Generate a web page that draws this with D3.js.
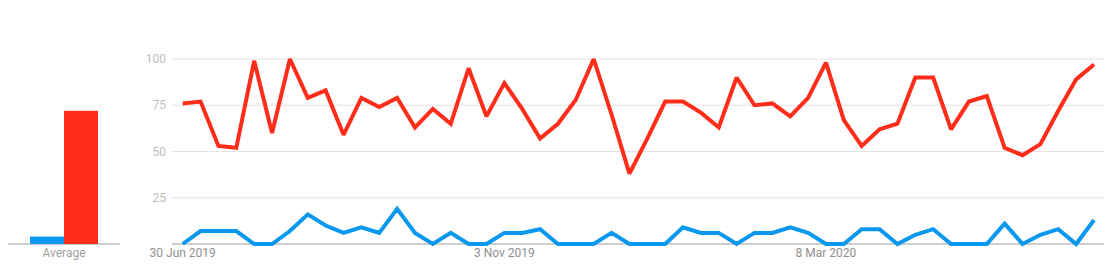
<!DOCTYPE html>
<html>
<head>
<meta charset="utf-8">
<script src="https://cdn.jsdelivr.net/npm/d3@7"></script>
<style>
  body { margin: 0; background: #fff; }
  svg { display: block; font-family: Roboto, "Noto Sans", sans-serif; }
</style>
</head>
<body>
<div id="chart"></div>
<script>
// weekly points, 30 Jun 2019 .. 21 Jun 2020
var startDate = "2019-06-30";
var redValues = [76, 77, 53, 52, 99, 60, 100, 79, 83, 59, 79, 74, 79, 63, 73, 65,
  95, 69, 87, 73, 57, 65, 78, 100, 70, 38, 57, 77, 77, 71, 63, 90, 75,
  76, 69, 79, 98, 67, 53, 62, 65, 90, 90, 62, 77, 80, 52, 48, 54, 72, 89, 97];
var blueValues = [0, 7, 7, 7, 0, 0, 7, 16, 10, 6, 9, 6, 19, 6, 0, 6,
  0, 0, 6, 6, 8, 0, 0, 0, 6, 0, 0, 0, 9, 6, 6, 0, 6,
  6, 9, 6, 0, 0, 8, 8, 0, 5, 8, 0, 0, 0, 11, 0, 5, 8, 0, 13];
var averages = [4, 72];
var seriesColors = ["#0a98ef", "#ff2d1a"];
var yTicks = [25, 50, 75, 100];
var xTickLabels = ["30 Jun 2019", "3 Nov 2019", "8 Mar 2020"];
var xTickDates = ["2019-06-30", "2019-11-03", "2020-03-08"];

var width = 1117, height = 273;
var svg = d3.select("#chart").append("svg").attr("width", width).attr("height", height);

var parse = d3.utcParse("%Y-%m-%d");
var dates = redValues.map(function (d, i) { return d3.utcWeek.offset(parse(startDate), i); });

var y = d3.scaleLinear().domain([0, 100]).range([244, 59]);

// average bars
var xa = d3.scaleBand().domain([0, 1]).range([30, 98]).padding(0);
svg.append("line").attr("x1", 8).attr("x2", 120).attr("y1", y(0)).attr("y2", y(0))
  .attr("stroke", "#9e9e9e").attr("stroke-width", 1);
svg.selectAll("rect.avg").data(averages).enter().append("rect")
  .attr("class", "avg")
  .attr("x", function (d, i) { return xa(i); })
  .attr("width", xa.bandwidth())
  .attr("y", function (d) { return y(d); })
  .attr("height", function (d) { return y(0) - y(d); })
  .attr("fill", function (d, i) { return seriesColors[i]; });
svg.append("text").attr("x", 64).attr("y", 257).attr("text-anchor", "middle")
  .attr("font-size", 12).attr("fill", "#9e9e9e").text("Average");

// main chart
var x = d3.scaleUtc().domain([dates[0], dates[dates.length - 1]]).range([182.7, 1094]);
var gridX0 = 172, gridX1 = 1104;

svg.append("g").selectAll("line").data(yTicks).enter().append("line")
  .attr("x1", gridX0).attr("x2", gridX1)
  .attr("y1", function (d) { return y(d); }).attr("y2", function (d) { return y(d); })
  .attr("stroke", "#e3e3e3").attr("stroke-width", 1);
svg.append("g").selectAll("text").data(yTicks).enter().append("text")
  .attr("x", 166).attr("y", function (d) { return y(d); }).attr("dy", "0.35em")
  .attr("text-anchor", "end").attr("font-size", 12).attr("fill", "#bdbdbd")
  .text(function (d) { return d; });

svg.append("line").attr("x1", gridX0).attr("x2", gridX1).attr("y1", y(0)).attr("y2", y(0))
  .attr("stroke", "#9e9e9e").attr("stroke-width", 1);

svg.append("g").selectAll("text").data(xTickDates).enter().append("text")
  .attr("x", function (d) { return x(parse(d)); }).attr("y", 257)
  .attr("text-anchor", "middle").attr("font-size", 12).attr("fill", "#8f8f8f")
  .text(function (d, i) { return xTickLabels[i]; });

var line = d3.line()
  .x(function (d, i) { return x(dates[i]); })
  .y(function (d) { return y(d); });

[blueValues, redValues].forEach(function (vals, k) {
  svg.append("path").datum(vals)
    .attr("d", line)
    .attr("fill", "none")
    .attr("stroke", seriesColors[k])
    .attr("stroke-width", 4)
    .attr("stroke-linejoin", "miter")
    .attr("stroke-miterlimit", 2);
});
</script>
</body>
</html>
